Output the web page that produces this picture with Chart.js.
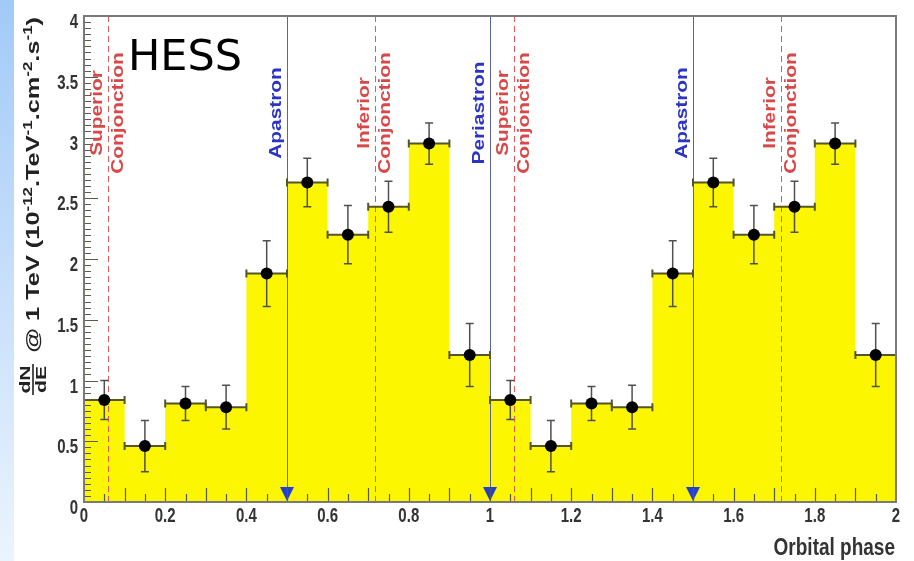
<!DOCTYPE html>
<html>
<head>
<meta charset="utf-8">
<script src="https://cdn.jsdelivr.net/npm/chart.js@4.4.0/dist/chart.umd.min.js"></script>
<style>
  html, body { margin: 0; padding: 0; background: #fff; }
  #wrap { width: 914px; height: 561px; }
</style>
</head>
<body>
<div id="wrap"><canvas id="phaseChart" width="914" height="561"></canvas></div>
<script>
// HESS flux vs orbital phase, folded and shown over two cycles

const binCenters = [0.05, 0.15, 0.25, 0.35, 0.45, 0.55, 0.65, 0.75, 0.85, 0.95,
                    1.05, 1.15, 1.25, 1.35, 1.45, 1.55, 1.65, 1.75, 1.85, 1.95];
const binWidth = 0.1;
const flux    = [0.84, 0.46, 0.81, 0.78, 1.88, 2.63, 2.20, 2.43, 2.95, 1.21,
                 0.84, 0.46, 0.81, 0.78, 1.88, 2.63, 2.20, 2.43, 2.95, 1.21];
const fluxErr = [0.16, 0.21, 0.14, 0.18, 0.27, 0.20, 0.24, 0.21, 0.17, 0.26,
                 0.16, 0.21, 0.14, 0.18, 0.27, 0.20, 0.24, 0.21, 0.17, 0.26];

const markerPhase = [0.06, 0.5, 0.716, 1.0, 1.06, 1.5, 1.716];
const markerKind  = ['conj', 'orbit', 'conj', 'orbit', 'conj', 'orbit', 'conj'];
const markerLeft  = ['Superior', 'Apastron', 'Inferior', 'Periastron', 'Superior', 'Apastron', 'Inferior'];
const markerRight = ['Conjonction', '', 'Conjonction', '', 'Conjonction', '', 'Conjonction'];

const xTickLabels = ['0', '0.2', '0.4', '0.6', '0.8', '1', '1.2', '1.4', '1.6', '1.8', '2'];
const yTickLabels = ['0', '0.5', '1', '1.5', '2', '2.5', '3', '3.5', '4'];

const FONT = '"Liberation Sans", Arial, Helvetica, sans-serif';
const STRETCH = 1.3; // source picture is stretched vertically

// step outline: each bin starts at its low edge, closed at the last high edge
const stepPts = binCenters.map((c, i) => ({ x: c - binWidth / 2, y: flux[i] }));
stepPts.push({ x: binCenters[binCenters.length - 1] + binWidth / 2, y: flux[flux.length - 1] });

const pointPts = binCenters.map((c, i) => ({ x: c, y: flux[i] }));

function rotText(ctx, text, x, y, font, color, align) {
  ctx.save();
  ctx.translate(x, y);
  ctx.rotate(-Math.PI / 2);
  ctx.scale(STRETCH, 1);
  ctx.font = font;
  ctx.fillStyle = color;
  ctx.textAlign = align || 'center';
  ctx.textBaseline = 'alphabetic';
  ctx.fillText(text, 0, 0);
  ctx.restore();
}

function drawYTitle(ctx) {
  const mainFont = 'bold 18px ' + FONT;
  const supFont = 'bold 12px ' + FONT;
  const fracFont = 'bold 15px ' + FONT;
  const parts = [['@ 1 TeV (10', 0], ['-12', 1], ['.TeV', 0], ['-1', 1], ['.cm', 0], ['-2', 1], ['.s', 0], ['-1', 1], [')', 0]];
  ctx.save();
  ctx.font = fracFont;
  const fw = Math.max(ctx.measureText('dN').width, ctx.measureText('dE').width) + 2;
  const gap = 8;
  let total = fw + gap;
  parts.forEach(p => { ctx.font = p[1] ? supFont : mainFont; total += ctx.measureText(p[0]).width; });
  const s = (395 - 17) / total;
  ctx.translate(39, 395);
  ctx.rotate(-Math.PI / 2);
  ctx.scale(s, 1);
  ctx.fillStyle = '#222';
  ctx.strokeStyle = '#222';
  ctx.textBaseline = 'alphabetic';
  ctx.font = fracFont;
  ctx.textAlign = 'center';
  ctx.fillText('dN', fw / 2, -9);
  ctx.fillText('dE', fw / 2, 7);
  ctx.lineWidth = 1.6;
  ctx.beginPath(); ctx.moveTo(0, -6); ctx.lineTo(fw, -6); ctx.stroke();
  ctx.textAlign = 'left';
  let x = fw + gap;
  parts.forEach(p => {
    ctx.font = p[1] ? supFont : mainFont;
    ctx.fillText(p[0], x, p[1] ? -7 : 0);
    x += ctx.measureText(p[0]).width;
  });
  ctx.restore();
}

const phaseDecor = {
  id: 'phaseDecor',
  beforeDraw(chart) {
    const ctx = chart.ctx;
    const g = ctx.createLinearGradient(0, 0, 0, chart.height);
    g.addColorStop(0, '#a2caf8');
    g.addColorStop(1, '#ebf4fd');
    ctx.save();
    ctx.fillStyle = g;
    ctx.fillRect(0, 0, 14, chart.height);
    ctx.restore();
  },
  afterDatasetDraw(chart, args) {
    if (args.index !== 1) return;
    const ctx = chart.ctx;
    const xs = chart.scales.x, ys = chart.scales.y;
    const area = chart.chartArea;
    ctx.save();
    // phase markers
    markerPhase.forEach((p, i) => {
      const px = Math.round(xs.getPixelForValue(p)) + 0.5;
      ctx.beginPath();
      if (markerKind[i] === 'conj') {
        ctx.strokeStyle = '#e05a5a';
        ctx.setLineDash([6, 4]);
      } else {
        ctx.strokeStyle = '#5a62a8';
        ctx.setLineDash([]);
      }
      ctx.lineWidth = 1;
      ctx.moveTo(px, area.top);
      ctx.lineTo(px, area.bottom);
      ctx.stroke();
    });
    ctx.setLineDash([]);
    // error bars
    binCenters.forEach((c, i) => {
      const py = ys.getPixelForValue(flux[i]);
      const x0 = xs.getPixelForValue(c - binWidth / 2);
      const x1 = xs.getPixelForValue(c + binWidth / 2);
      const cx = xs.getPixelForValue(c);
      const yHi = ys.getPixelForValue(flux[i] + fluxErr[i]);
      const yLo = ys.getPixelForValue(flux[i] - fluxErr[i]);
      ctx.strokeStyle = '#55552a';
      ctx.lineWidth = 2;
      ctx.beginPath(); ctx.moveTo(x0, py); ctx.lineTo(x1, py); ctx.stroke();
      ctx.beginPath(); ctx.moveTo(x0, py - 4); ctx.lineTo(x0, py + 4); ctx.moveTo(x1, py - 4); ctx.lineTo(x1, py + 4); ctx.stroke();
      ctx.strokeStyle = '#505050';
      ctx.lineWidth = 1.5;
      ctx.beginPath();
      ctx.moveTo(cx, yHi); ctx.lineTo(cx, yLo);
      ctx.moveTo(cx - 4, yHi); ctx.lineTo(cx + 4, yHi);
      ctx.moveTo(cx - 4, yLo); ctx.lineTo(cx + 4, yLo);
      ctx.stroke();
    });
    ctx.restore();
  },
  afterDraw(chart) {
    const ctx = chart.ctx;
    const xs = chart.scales.x, ys = chart.scales.y;
    const area = chart.chartArea;
    ctx.save();
    // blue triangles for periastron / apastron
    markerPhase.forEach((p, i) => {
      if (markerKind[i] !== 'orbit') return;
      const px = xs.getPixelForValue(p);
      ctx.fillStyle = '#1f3fd6';
      ctx.beginPath();
      ctx.moveTo(px - 7, area.bottom - 15);
      ctx.lineTo(px + 7, area.bottom - 15);
      ctx.lineTo(px, area.bottom - 1);
      ctx.closePath();
      ctx.fill();
    });
    // ticks inside the frame
    ctx.strokeStyle = '#5a5a4a';
    ctx.lineWidth = 1.2;
    ctx.beginPath();
    for (let k = 1; k < 40; k++) {
      const v = k * 0.05;
      const px = Math.round(xs.getPixelForValue(v)) + 0.5;
      const len = (k % 2 === 0) ? 14 : 8;
      ctx.moveTo(px, area.bottom); ctx.lineTo(px, area.bottom - len);
    }
    for (let k = 1; k < 80; k++) {
      const v = k * 0.05;
      const py = Math.round(ys.getPixelForValue(v)) + 0.5;
      const len = (k % 10 === 0) ? 14 : 7;
      ctx.moveTo(area.left, py); ctx.lineTo(area.left + len, py);
    }
    ctx.stroke();
    // frame
    ctx.strokeStyle = '#7a7a7a';
    ctx.lineWidth = 2;
    ctx.strokeRect(area.left, area.top, area.right - area.left, area.bottom - area.top);
    // marker labels
    const lblFont = 'bold 16px ' + FONT;
    markerPhase.forEach((p, i) => {
      const px = xs.getPixelForValue(p);
      const col = markerKind[i] === 'conj' ? '#d94848' : '#2b34c4';
      rotText(ctx, markerLeft[i], px - 6, 113, lblFont, col);
      if (markerRight[i]) rotText(ctx, markerRight[i], px + 15, 113, lblFont, col);
    });
    // tick labels
    ctx.fillStyle = '#333';
    ctx.font = 'bold 15px ' + FONT;
    xTickLabels.forEach(t => {
      const px = xs.getPixelForValue(parseFloat(t));
      ctx.save();
      ctx.translate(px, 522);
      ctx.scale(1, STRETCH);
      ctx.textAlign = 'center';
      ctx.textBaseline = 'alphabetic';
      ctx.fillText(t, 0, 0);
      ctx.restore();
    });
    yTickLabels.forEach(t => {
      const py = ys.getPixelForValue(parseFloat(t));
      ctx.save();
      ctx.translate(78, py + 12);
      ctx.scale(1, STRETCH);
      ctx.textAlign = 'right';
      ctx.textBaseline = 'alphabetic';
      ctx.fillText(t, 0, 0);
      ctx.restore();
    });
    // axis titles
    ctx.save();
    ctx.translate(895, 555);
    ctx.scale(1, 1.25);
    ctx.font = 'bold 19px ' + FONT;
    ctx.fillStyle = '#333';
    ctx.textAlign = 'right';
    ctx.fillText('Orbital phase', 0, 0);
    ctx.restore();
    drawYTitle(ctx);
    // experiment tag
    ctx.font = '43px "DejaVu Sans", sans-serif';
    ctx.fillStyle = '#000';
    ctx.textAlign = 'left';
    ctx.textBaseline = 'alphabetic';
    ctx.fillText('HESS', 128, 70);
    ctx.restore();
  }
};

new Chart(document.getElementById('phaseChart'), {
  type: 'line',
  data: {
    datasets: [
      {
        label: 'flux',
        data: pointPts,
        showLine: false,
        pointRadius: 6,
        pointHoverRadius: 6,
        pointBackgroundColor: '#000',
        pointBorderColor: '#000',
        pointBorderWidth: 0
      },
      {
        label: 'histogram',
        data: stepPts,
        stepped: 'before',
        fill: 'origin',
        backgroundColor: '#fcf700',
        borderColor: 'rgba(0,0,0,0)',
        borderWidth: 0,
        pointRadius: 0
      }
    ]
  },
  options: {
    responsive: false,
    animation: false,
    layout: { padding: { left: 84, right: 18, top: 16, bottom: 59 } },
    plugins: { legend: { display: false }, tooltip: { enabled: false } },
    scales: {
      x: { type: 'linear', min: 0, max: 2, display: false },
      y: { type: 'linear', min: 0, max: 4, display: false }
    }
  },
  plugins: [phaseDecor]
});
</script>
</body>
</html>
